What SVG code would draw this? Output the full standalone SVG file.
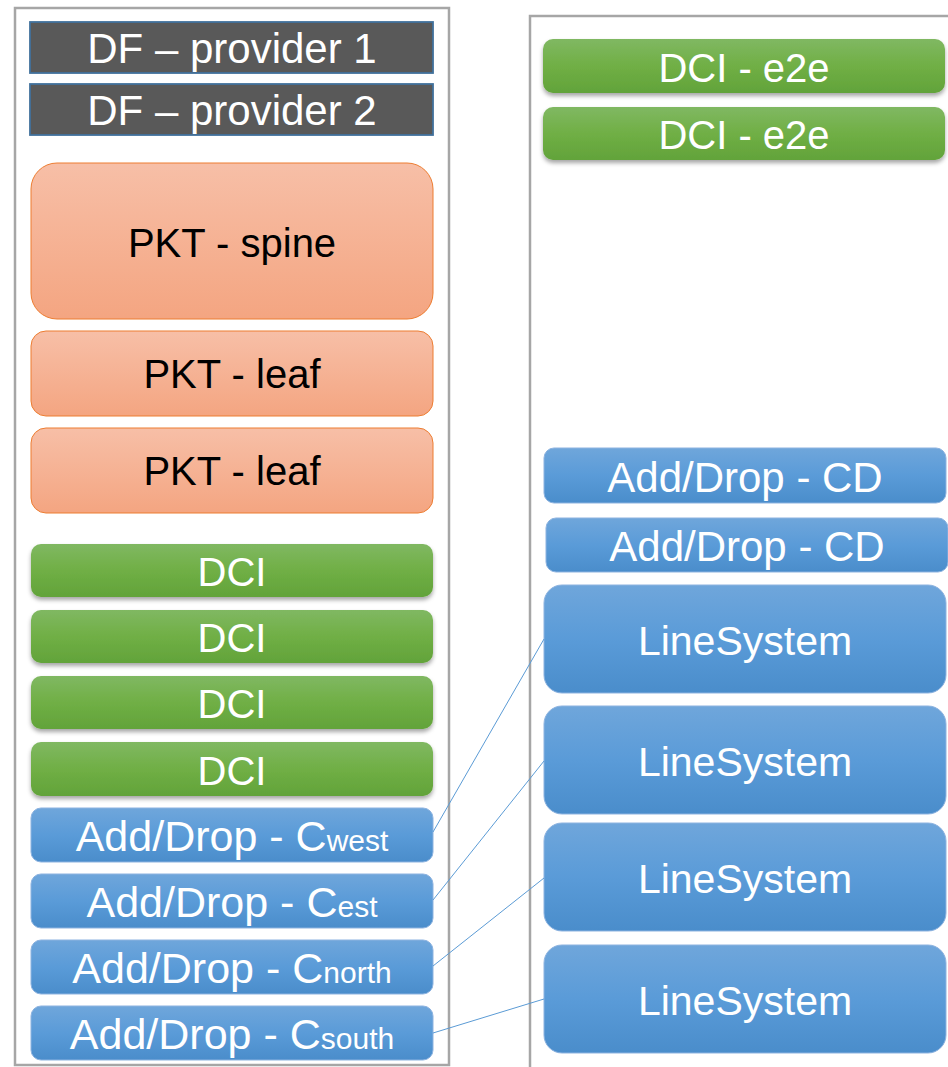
<svg xmlns="http://www.w3.org/2000/svg" width="948" height="1067" viewBox="0 0 948 1067">
<style>
  text { font-family: "Liberation Sans", Arial, sans-serif; font-size: 40px; text-anchor: middle; }
  .w { fill: #FFFFFF; }
  .k { fill: #000000; }
  .ad { font-size: 43px; }
  .sub { font-size: 30px; }
  .cont { fill: #FFFFFF; stroke: #A6A6A6; stroke-width: 2.5; }
  .df { fill: #595959; stroke: #41719C; stroke-width: 1.8; }
  .pkt { fill: url(#gOrange); stroke: #ED7D31; stroke-width: 1; }
  .dci { fill: url(#gGreen); filter: url(#shadow); }
  .blu { fill: url(#gBlue); stroke: #8DB3E0; stroke-width: 1; }
  .conn { stroke: #5B9BD5; stroke-width: 1; fill: none; }
</style>
<defs>
  <linearGradient id="gOrange" x1="0" y1="0" x2="0" y2="1">
    <stop offset="0" stop-color="#F7BFA7"/>
    <stop offset="1" stop-color="#F4A581"/>
  </linearGradient>
  <linearGradient id="gGreen" x1="0" y1="0" x2="0" y2="1">
    <stop offset="0" stop-color="#80B862"/>
    <stop offset="0.5" stop-color="#70AF45"/>
    <stop offset="1" stop-color="#62A33A"/>
  </linearGradient>
  <linearGradient id="gBlue" x1="0" y1="0" x2="0" y2="1">
    <stop offset="0" stop-color="#6FA6DB"/>
    <stop offset="0.5" stop-color="#5A9BD8"/>
    <stop offset="1" stop-color="#4A8DCB"/>
  </linearGradient>
  <filter id="shadow" x="-5%" y="-20%" width="110%" height="150%">
    <feGaussianBlur in="SourceAlpha" stdDeviation="2"/>
    <feOffset dx="0" dy="3" result="b"/>
    <feFlood flood-color="#000000" flood-opacity="0.35"/>
    <feComposite in2="b" operator="in"/>
    <feMerge><feMergeNode/><feMergeNode in="SourceGraphic"/></feMerge>
  </filter>
</defs>
<rect width="948" height="1067" fill="#FFFFFF"/>

<g id="container-left"><rect class="cont" x="15" y="8" width="434" height="1057"/></g>
<g id="container-right"><rect class="cont" x="530" y="16" width="440" height="1070"/></g>

<g id="df1"><rect class="df" x="30" y="22" width="403" height="51"/><text class="w" x="232" y="63" style="font-size:42px">DF – provider 1</text></g>
<g id="df2"><rect class="df" x="30" y="84" width="403" height="51"/><text class="w" x="232" y="125" style="font-size:42px">DF – provider 2</text></g>

<g id="pkt-spine"><rect class="pkt" x="31" y="163" width="402" height="156" rx="26"/><text class="k" x="232" y="257">PKT - spine</text></g>
<g id="pkt-leaf1"><rect class="pkt" x="31" y="331" width="402" height="85" rx="15"/><text class="k" x="232" y="388">PKT - leaf</text></g>
<g id="pkt-leaf2"><rect class="pkt" x="31" y="428" width="402" height="85" rx="15"/><text class="k" x="232" y="485">PKT - leaf</text></g>

<g id="dci1"><rect class="dci" x="31" y="544" width="402" height="53" rx="10"/><text class="w" x="232" y="586">DCI</text></g>
<g id="dci2"><rect class="dci" x="31" y="610" width="402" height="53" rx="10"/><text class="w" x="232" y="652">DCI</text></g>
<g id="dci3"><rect class="dci" x="31" y="676" width="402" height="53" rx="10"/><text class="w" x="232" y="718">DCI</text></g>
<g id="dci4"><rect class="dci" x="31" y="742" width="402" height="54" rx="10"/><text class="w" x="232" y="785">DCI</text></g>

<g id="ad-west"><rect class="blu" x="31" y="808" width="402" height="54" rx="10"/><text class="w ad" x="232" y="851">Add/Drop - C<tspan class="sub">west</tspan></text></g>
<g id="ad-est"><rect class="blu" x="31" y="874" width="402" height="54" rx="10"/><text class="w ad" x="232" y="917">Add/Drop - C<tspan class="sub">est</tspan></text></g>
<g id="ad-north"><rect class="blu" x="31" y="940" width="402" height="54" rx="10"/><text class="w ad" x="232" y="983">Add/Drop - C<tspan class="sub">north</tspan></text></g>
<g id="ad-south"><rect class="blu" x="31" y="1006" width="402" height="54" rx="10"/><text class="w ad" x="232" y="1049">Add/Drop - C<tspan class="sub">south</tspan></text></g>

<g id="dci-e2e1"><rect class="dci" x="543" y="39" width="402" height="54" rx="10"/><text class="w" x="744" y="82">DCI - e2e</text></g>
<g id="dci-e2e2"><rect class="dci" x="543" y="107" width="402" height="53" rx="10"/><text class="w" x="744" y="149">DCI - e2e</text></g>

<g id="ad-cd1"><rect class="blu" x="544" y="448" width="402" height="55" rx="10"/><text class="w" x="745" y="492" style="font-size:42px">Add/Drop - CD</text></g>
<g id="ad-cd2"><rect class="blu" x="546" y="518" width="402" height="54" rx="10"/><text class="w" x="747" y="561" style="font-size:42px">Add/Drop - CD</text></g>

<g id="ls1"><rect class="blu" x="544" y="585" width="402" height="108" rx="18"/><text class="w" x="745" y="655" style="font-size:41px">LineSystem</text></g>
<g id="ls2"><rect class="blu" x="544" y="706" width="402" height="108" rx="18"/><text class="w" x="745" y="776" style="font-size:41px">LineSystem</text></g>
<g id="ls3"><rect class="blu" x="544" y="823" width="402" height="108" rx="18"/><text class="w" x="745" y="893" style="font-size:41px">LineSystem</text></g>
<g id="ls4"><rect class="blu" x="544" y="945" width="402" height="108" rx="18"/><text class="w" x="745" y="1015" style="font-size:41px">LineSystem</text></g>

<g id="connectors">
  <line class="conn" x1="433" y1="832" x2="544" y2="639"/>
  <line class="conn" x1="433" y1="900" x2="544" y2="761"/>
  <line class="conn" x1="433" y1="966" x2="544" y2="878"/>
  <line class="conn" x1="433" y1="1033" x2="544" y2="999"/>
</g>
</svg>
